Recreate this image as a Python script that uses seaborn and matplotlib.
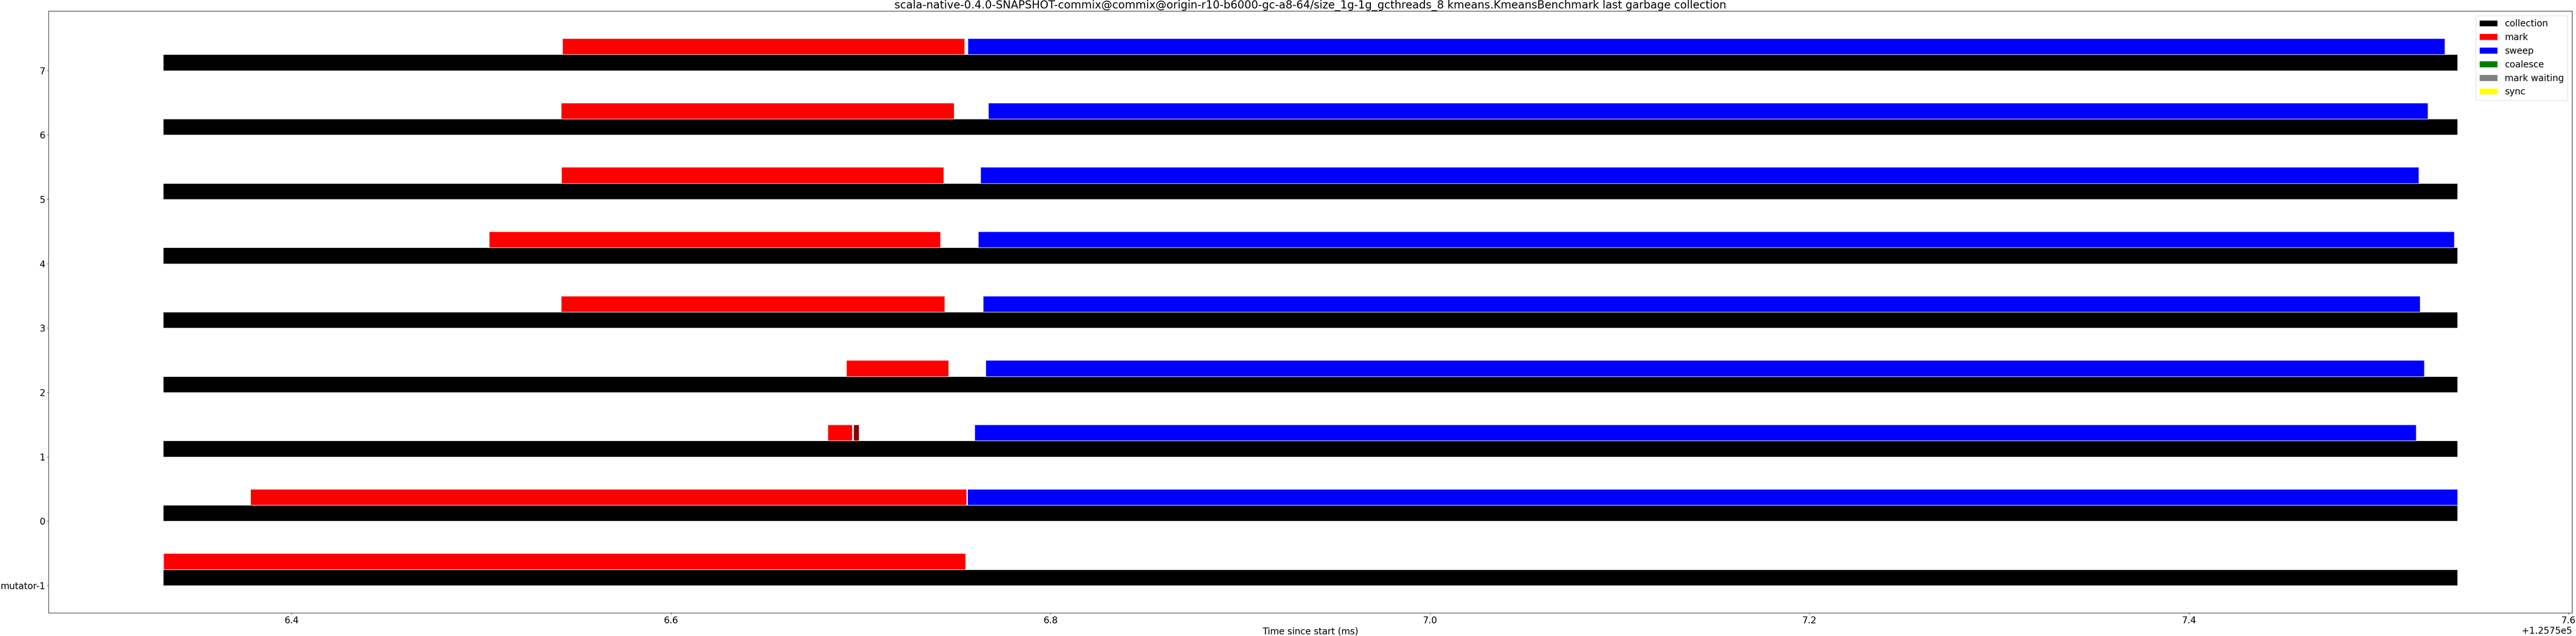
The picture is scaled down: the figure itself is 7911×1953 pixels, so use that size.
import matplotlib
matplotlib.use("Agg")
import numpy as np
import matplotlib.pyplot as plt
from matplotlib.patches import Patch
import seaborn as sns

sns.set_theme(style="ticks")
plt.rcParams.update({
    "font.family": ["DejaVu Sans"],
    "font.size": 20,
    "axes.titlesize": 24,
    "axes.labelsize": 20,
    "xtick.labelsize": 20,
    "ytick.labelsize": 20,
    "legend.fontsize": 20,
    "axes.edgecolor": "black",
    "axes.linewidth": 1.0,
    "text.color": "black",
    "axes.labelcolor": "black",
    "xtick.color": "black",
    "ytick.color": "black",
    "xtick.major.size": 3.5,
    "ytick.major.size": 3.5,
    "xtick.major.width": 0.8,
    "ytick.major.width": 0.8,
})

TITLE = ("scala-native-0.4.0-SNAPSHOT-commix@commix@origin-r10-b6000-gc-a8-64/"
         "size_1g-1g_gcthreads_8 kmeans.KmeansBenchmark last garbage collection")

# thread rows (y position) and their labels
rows = [-1, 0, 1, 2, 3, 4, 5, 6, 7]
row_labels = ["mutator-1", "0", "1", "2", "3", "4", "5", "6", "7"]

# whole collection, same for every thread (ms since start)
collection_start = [125756.3324] * 9
collection_end = [125757.5414] * 9

# mark phases (thread 1 has two pieces)
mark_rows = [-1, 0, 1, 1, 2, 3, 4, 5, 6, 7]
mark_start = [125756.3326, 125756.3784, 125756.6826, 125756.6962, 125756.6924,
              125756.5421, 125756.5042, 125756.5422, 125756.5421, 125756.5428]
mark_end = [125756.7552, 125756.7557, 125756.6955, 125756.6990, 125756.7463,
            125756.7442, 125756.7420, 125756.7437, 125756.7492, 125756.7547]
mark_colors = ["red", "red", "red", "darkred", "red",
               "red", "red", "red", "red", "red"]

# sweep phases
sweep_rows = [0, 1, 2, 3, 4, 5, 6, 7]
sweep_start = [125756.7562, 125756.7600, 125756.7658, 125756.7645,
               125756.7619, 125756.7631, 125756.7672, 125756.7564]
sweep_end = [125757.5414, 125757.5196, 125757.5239, 125757.5218,
             125757.5398, 125757.5210, 125757.5259, 125757.5347]

legend_names = ["collection", "mark", "sweep", "coalesce", "mark waiting", "sync"]
legend_colors = ["black", "red", "blue", "green", "grey", "yellow"]

fig = plt.figure(figsize=(79.11, 19.53), dpi=100)
ax = fig.add_subplot(111)
fig.subplots_adjust(left=0.01883, right=0.99848, top=0.98259, bottom=0.03635)

bar_h = 0.25
ax.barh(rows, np.subtract(collection_end, collection_start), left=collection_start,
        height=bar_h, align="edge", color="black", edgecolor="white", linewidth=1)
ax.barh(np.add(mark_rows, bar_h), np.subtract(mark_end, mark_start), left=mark_start,
        height=bar_h, align="edge", color=mark_colors, edgecolor="white", linewidth=1)
ax.barh(np.add(sweep_rows, bar_h), np.subtract(sweep_end, sweep_start), left=sweep_start,
        height=bar_h, align="edge", color="blue", edgecolor="white", linewidth=1)

ax.use_sticky_edges = False
ax.autoscale_view()

ax.set_yticks(rows)
ax.set_yticklabels(row_labels)
ax.set_xlabel("Time since start (ms)")
ax.set_title(TITLE)

handles = [Patch(facecolor=c, edgecolor="white", label=n)
           for n, c in zip(legend_names, legend_colors)]
ax.legend(handles=handles, loc="upper right")

fig.savefig("out.png", dpi=100)
